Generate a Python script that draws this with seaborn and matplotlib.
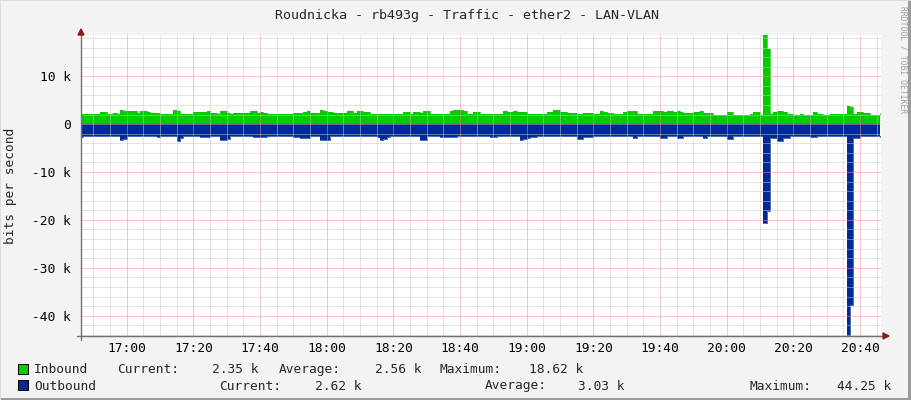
import numpy as np
import pandas as pd
import matplotlib
matplotlib.use("Agg")
import matplotlib.pyplot as plt
import seaborn as sns
from matplotlib.ticker import MultipleLocator
from matplotlib.lines import Line2D
from matplotlib.patches import Rectangle, Polygon

# ---------------- data ----------------
title = "Roudnicka - rb493g - Traffic - ether2 - LAN-VLAN"
ylabel = "bits per second"
credit = "RRDTOOL / TOBI OETIKER"

start_minute = 46          # first sample: 16:46 (minutes after 16:00)
x_min, x_max = 46.3, 286.3  # visible time span (minutes after 16:00)

# Inbound traffic, k bits/s, one value per minute
inbound_k = [
    2.2, 2.2, 2.2, 2.15, 2.15, 2.15, 2.6, 2.6, 2.2, 2.2,
    2.25, 2.2, 3.0, 2.8, 2.7, 2.65, 2.8, 2.4, 2.65, 2.7,
    2.6, 2.3, 2.3, 2.3, 2.2, 2.2, 2.15, 2.2, 3.0, 2.7,
    2.2, 2.2, 2.15, 2.2, 2.5, 2.5, 2.5, 2.45, 2.8, 2.3,
    2.3, 2.2, 2.8, 2.7, 2.3, 2.2, 2.3, 2.25, 2.3, 2.3,
    2.3, 2.85, 2.75, 2.4, 2.45, 2.4, 2.2, 2.2, 2.2, 2.2,
    2.2, 2.2, 2.2, 2.2, 2.3, 2.35, 2.3, 2.6, 2.65, 2.3,
    2.3, 2.25, 2.9, 2.8, 2.5, 2.5, 2.35, 2.4, 2.35, 2.4,
    2.65, 2.65, 2.3, 2.85, 2.85, 2.45, 2.45, 2.15, 2.15, 2.15,
    2.15, 2.1, 2.1, 2.2, 2.2, 2.2, 2.2, 2.55, 2.5, 2.2,
    2.6, 2.6, 2.35, 2.85, 2.8, 2.2, 2.2, 2.2, 2.2, 2.2,
    2.15, 2.65, 2.9, 3.0, 3.0, 2.65, 2.2, 2.2, 2.45, 2.45,
    2.2, 2.15, 2.15, 2.15, 2.15, 2.15, 2.15, 2.65, 2.6, 2.45,
    2.65, 2.45, 2.45, 2.45, 2.2, 2.2, 2.15, 2.15, 2.15, 2.15,
    2.5, 2.55, 3.05, 3.05, 2.6, 2.6, 2.3, 2.3, 2.3, 2.2,
    2.2, 2.35, 2.35, 2.35, 2.2, 2.2, 2.65, 2.6, 2.3, 2.3,
    2.2, 2.2, 2.2, 2.45, 2.65, 2.65, 2.65, 2.2, 2.05, 2.05,
    2.2, 2.2, 2.8, 2.8, 2.8, 2.5, 2.85, 2.7, 2.45, 2.85,
    2.5, 2.35, 2.35, 2.35, 2.45, 2.45, 2.65, 2.3, 2.3, 2.3,
    2.0, 2.0, 2.0, 2.0, 2.45, 2.45, 2.0, 2.0, 1.95, 1.95,
    1.95, 2.15, 2.45, 2.45, 1.95, 18.62, 15.8, 2.05, 2.45, 2.8,
    2.8, 2.5, 2.15, 2.15, 1.95, 1.95, 2.05, 1.85, 1.85, 1.95,
    2.45, 2.15, 2.15, 1.95, 1.95, 2.15, 2.15, 2.15, 2.15, 2.05,
    3.85, 3.6, 2.15, 2.45, 2.45, 2.3, 2.3, 1.95, 1.95, 1.95,
    2.35,
]

# Outbound traffic, k bits/s (drawn below zero), one value per minute
outbound_k = [
    2.65, 2.45, 2.45, 2.5, 2.45, 2.45, 2.45, 2.5, 2.45, 2.45,
    2.45, 2.45, 3.25, 3.2, 2.5, 2.5, 2.5, 2.5, 2.5, 2.5,
    2.5, 2.5, 2.5, 2.6, 2.5, 2.5, 2.5, 2.5, 2.5, 3.5,
    2.9, 2.5, 2.5, 2.5, 2.5, 2.5, 2.7, 2.7, 2.7, 2.5,
    2.5, 2.5, 3.3, 3.3, 3.0, 2.5, 2.5, 2.5, 2.5, 2.5,
    2.5, 2.5, 2.65, 2.65, 2.65, 2.65, 2.45, 2.45, 2.45, 2.45,
    2.45, 2.45, 2.45, 2.45, 2.65, 2.65, 2.8, 2.8, 2.8, 2.5,
    2.5, 2.5, 3.25, 3.25, 3.25, 2.5, 2.5, 2.5, 2.5, 2.5,
    2.5, 2.5, 2.5, 2.5, 2.5, 2.5, 2.5, 2.5, 2.5, 2.75,
    3.3, 3.2, 2.75, 2.5, 2.55, 2.5, 2.55, 2.5, 2.55, 2.5,
    2.55, 2.5, 3.4, 3.4, 2.55, 2.55, 2.55, 2.55, 2.75, 2.75,
    2.6, 2.6, 2.6, 2.5, 2.5, 2.5, 2.5, 2.5, 2.5, 2.5,
    2.5, 2.5, 2.5, 2.65, 2.65, 2.55, 2.55, 2.55, 2.55, 2.55,
    2.55, 2.55, 3.3, 3.2, 2.9, 2.7, 2.7, 2.5, 2.5, 2.5,
    2.5, 2.5, 2.55, 2.55, 2.55, 2.55, 2.55, 2.55, 2.55, 3.2,
    3.1, 2.75, 2.75, 2.75, 2.5, 2.5, 2.5, 2.5, 2.5, 2.5,
    2.5, 2.5, 2.4, 2.4, 2.5, 2.5, 2.8, 2.5, 2.5, 2.4,
    2.4, 2.5, 2.5, 2.5, 2.8, 2.8, 2.5, 2.5, 2.5, 2.8,
    2.8, 2.5, 2.5, 2.5, 2.5, 2.5, 2.5, 2.8, 2.5, 2.5,
    2.5, 2.5, 2.5, 2.5, 3.05, 3.0, 2.45, 2.45, 2.45, 2.45,
    2.45, 2.5, 2.5, 2.5, 2.5, 20.7, 18.2, 2.8, 2.8, 3.5,
    3.45, 2.8, 2.8, 2.5, 2.5, 2.5, 2.5, 2.5, 2.5, 2.7,
    2.7, 2.5, 2.5, 2.5, 2.5, 2.5, 2.5, 2.5, 2.5, 2.5,
    44.25, 37.7, 2.8, 2.8, 2.5, 2.5, 2.5, 2.5, 2.5, 2.5,
    2.62,
]

x_tick_minutes = [60, 80, 100, 120, 140, 160, 180, 200, 220, 240, 260, 280]
x_tick_labels = ["17:00", "17:20", "17:40", "18:00", "18:20", "18:40",
                 "19:00", "19:20", "19:40", "20:00", "20:20", "20:40"]
y_ticks_k = [10, 0, -10, -20, -30, -40]
y_tick_labels = ["10 k", "0", "-10 k", "-20 k", "-30 k", "-40 k"]
y_min_k, y_max_k = -44.25, 18.62

series_names = ["Inbound", "Outbound"]
series_colors = ["#00CC00", "#002A97"]
legend_row1 = [("Current:", 117), ("2.35 k", 212), ("Average:", 279),
               ("2.56 k", 375), ("Maximum:", 440), ("18.62 k", 529)]
legend_row2 = [("Current:", 219), ("2.62 k", 315), ("Average:", 485),
               ("3.03 k", 578), ("Maximum:", 749), ("44.25 k", 837)]

# ---------------- style ----------------
sns.set_style("white")
plt.rcParams['font.family'] = ['DejaVu Sans Mono', 'DejaVu Sans']
FS = 9.3
W, H = 911, 400

def fx(x):
    return x / W

def fy(y):
    return 1 - y / H

fig = plt.figure(figsize=(W / 100, H / 100), dpi=100, facecolor="#F3F3F3")

# frame shading
fig.add_artist(Rectangle((0, fy(400)), fx(911), 2 / H, transform=fig.transFigure,
                         color="#9B9B9B", lw=0, zorder=0))
fig.add_artist(Rectangle((fx(908), 0), 3 / W, 1, transform=fig.transFigure,
                         color="#9B9B9B", lw=0, zorder=0))
fig.add_artist(Rectangle((0, fy(1)), 1, 1 / H, transform=fig.transFigure,
                         color="#DCDCDC", lw=0, zorder=0))
fig.add_artist(Rectangle((0, 0), 1 / W, 1, transform=fig.transFigure,
                         color="#DCDCDC", lw=0, zorder=0))

ax = fig.add_axes([fx(81), fy(336), 800 / W, 301 / H])
ax.set_facecolor("white")

minutes = start_minute + np.arange(len(inbound_k))
df = pd.DataFrame({
    "minute": minutes,
    "Inbound": np.array(inbound_k),
    "Outbound": -np.array(outbound_k),
})

for name, col in zip(series_names, series_colors):
    ax.fill_between(df["minute"], 0, df[name], step="post", color=col, lw=0, zorder=1)
    sns.lineplot(data=df, x="minute", y=name, drawstyle="steps-post", color=col,
                 lw=0.5, ax=ax, zorder=1.5)

ax.set_xlim(x_min, x_max)
ax.set_ylim(y_min_k, y_max_k)
ax.set_xlabel("")
ax.set_ylabel("")

ax.set_xticks(x_tick_minutes, x_tick_labels)
ax.set_yticks(y_ticks_k, y_tick_labels)
ax.xaxis.set_minor_locator(MultipleLocator(5))
ax.yaxis.set_minor_locator(MultipleLocator(2))
ax.set_axisbelow(False)
ax.grid(which="minor", color="#C9C9C9", linestyle=(0, (1, 1)), lw=0.72)
ax.grid(which="major", color="#F09090", linestyle=(0, (1, 1)), lw=0.72)
ax.tick_params(which="both", length=0, labelsize=FS, colors="black")
ax.tick_params(axis="y", pad=7.5)
ax.tick_params(axis="x", pad=4.5)
for s in ax.spines.values():
    s.set_visible(False)

# axis lines with arrows
axis_col = "#707070"
arrow_col = "#8B1A1A"
fig.add_artist(Line2D([fx(81), fx(81)], [fy(340), fy(33)], transform=fig.transFigure,
                      color=axis_col, lw=1.0, zorder=5))
fig.add_artist(Line2D([fx(77), fx(884)], [fy(336), fy(336)], transform=fig.transFigure,
                      color=axis_col, lw=1.0, zorder=5))
fig.add_artist(Polygon([(fx(78), fy(35)), (fx(84), fy(35)), (fx(81), fy(29))],
                       closed=True, transform=fig.transFigure, color=arrow_col, zorder=6))
fig.add_artist(Polygon([(fx(883), fy(333)), (fx(883), fy(339)), (fx(889), fy(336))],
                       closed=True, transform=fig.transFigure, color=arrow_col, zorder=6))

# texts
fig.text(fx(467), fy(19), title, ha="center", va="baseline", fontsize=9.6)
fig.text(fx(11), fy(185.5), ylabel, ha="center", va="center", rotation=90, fontsize=FS)
fig.text(fx(903), fy(6), credit, ha="center", va="top", rotation=270,
         fontsize=5.8, color="#A0A0A0")

# legend
rows = [(373, 364, legend_row1), (389.5, 380, legend_row2)]
for (base_y, sq_y, items), name, col in zip(rows, series_names, series_colors):
    fig.add_artist(Rectangle((fx(17.5), fy(sq_y + 9.5)), 10 / W, 9.5 / H,
                             transform=fig.transFigure, facecolor=col,
                             edgecolor="black", lw=0.7))
    fig.text(fx(34), fy(base_y), name, ha="left", va="baseline", fontsize=FS)
    for txt, xpos in items:
        fig.text(fx(xpos), fy(base_y), txt, ha="left", va="baseline", fontsize=FS)

fig.savefig("out.png", dpi=100, facecolor=fig.get_facecolor())
